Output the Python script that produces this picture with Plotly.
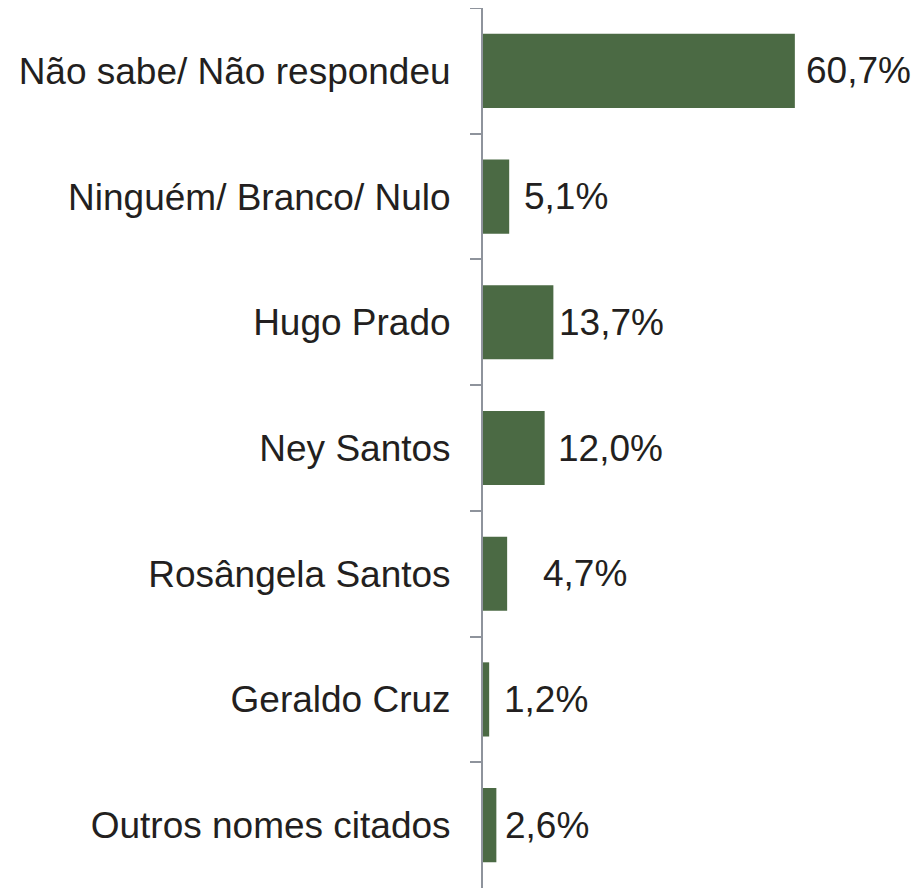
import plotly.graph_objects as go

categories = ["Não sabe/ Não respondeu", "Ninguém/ Branco/ Nulo", "Hugo Prado",
              "Ney Santos", "Rosângela Santos", "Geraldo Cruz", "Outros nomes citados"]
values = [60.7, 5.1, 13.7, 12.0, 4.7, 1.2, 2.6]
labels = ["60,7%", "5,1%", "13,7%", "12,0%", "4,7%", "1,2%", "2,6%"]
label_shift = [9, 13, 4, 11, 34, 13, 7]

FONT = "Liberation Sans, Arial, Helvetica, sans-serif"
TXT = "#231f20"
AX = "#8e939c"

fig = go.Figure()
fig.add_trace(go.Bar(
    x=values, y=categories, orientation="h",
    marker=dict(color="#4b6a44", line=dict(width=0)),
    hoverinfo="skip",
))

for c, v, t, s in zip(categories, values, labels, label_shift):
    fig.add_annotation(x=v, y=c, text=t, xanchor="left", yanchor="middle",
                       xshift=s, showarrow=False,
                       font=dict(family=FONT, size=37, color=TXT))

fig.update_layout(
    width=919, height=891,
    margin=dict(l=475, r=33, t=0, b=11, autoexpand=False),
    paper_bgcolor="white", plot_bgcolor="white",
    bargap=0.41, showlegend=False,
    xaxis=dict(range=[0, 80], visible=False, automargin=False),
    yaxis=dict(
        type="category", autorange="reversed", automargin=False,
        showline=True, linecolor=AX, linewidth=2,
        ticks="outside", tickson="boundaries", ticklen=11, tickwidth=2, tickcolor=AX,
        tickfont=dict(family=FONT, size=37, color=TXT),
        ticklabelstandoff=23, showgrid=False, zeroline=False,
    ),
)

fig.write_html("out.html")
